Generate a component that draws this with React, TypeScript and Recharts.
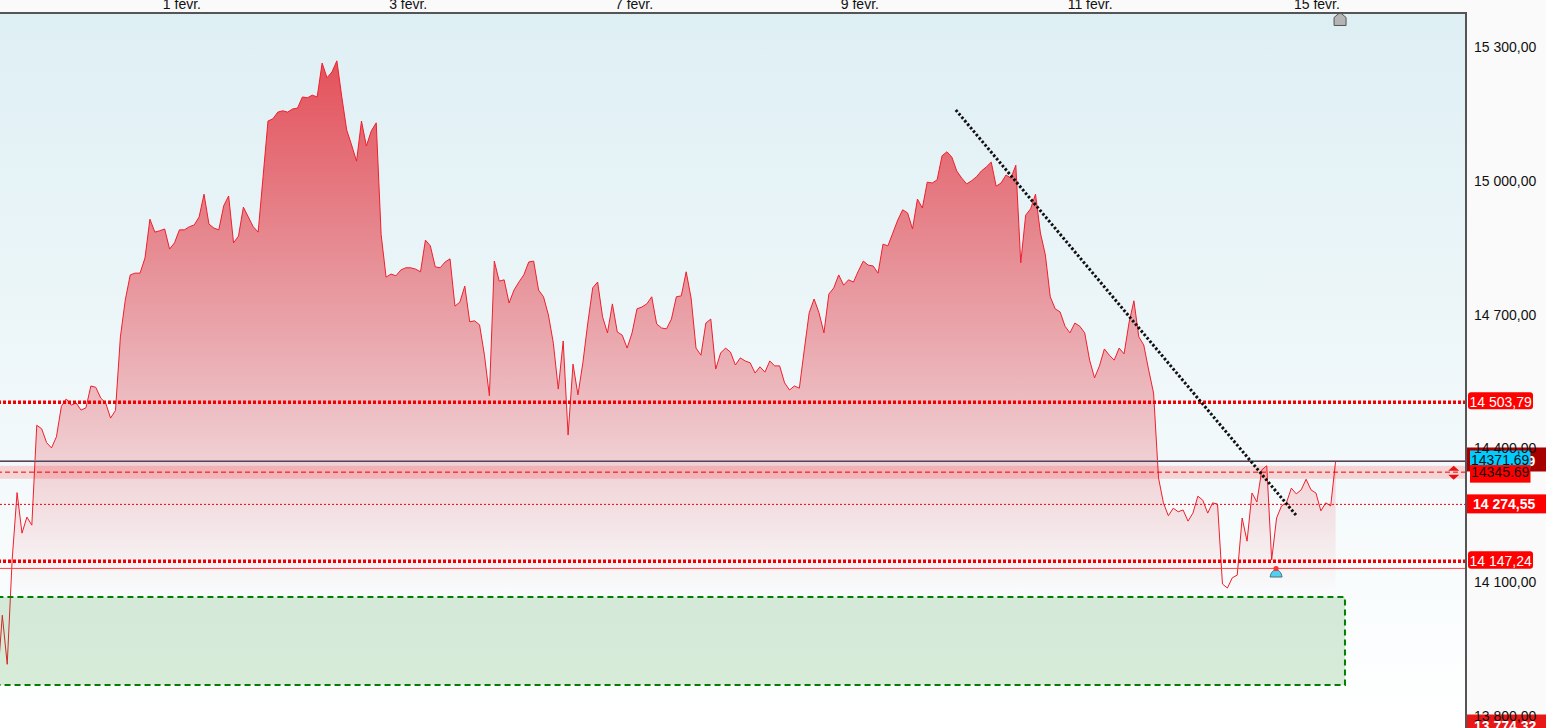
import {
  ComposedChart,
  Area,
  XAxis,
  YAxis,
  ReferenceLine,
  ReferenceArea,
  ReferenceDot,
} from "recharts";

const prices = [
  13876, 14026, 13916, 14150, 14301, 14210, 14246, 14228, 14452, 14444, 14413, 14401, 14426, 14494, 14511, 14497,
  14502, 14486, 14491, 14540, 14537, 14513, 14502, 14468, 14485, 14650, 14733, 14789, 14793, 14793, 14827, 14914,
  14885, 14888, 14892, 14847, 14861, 14890, 14890, 14897, 14901, 14919, 14970, 14903, 14894, 14890, 14944, 14966,
  14861, 14876, 14941, 14919, 14897, 14885, 15009, 15134, 15139, 15154, 15157, 15154, 15161, 15163, 15188, 15186,
  15192, 15188, 15264, 15231, 15244, 15269, 15188, 15114, 15080, 15044, 15134, 15078, 15112, 15130, 14879, 14784,
  14791, 14787, 14800, 14805, 14805, 14802, 14796, 14867, 14854, 14807, 14805, 14818, 14825, 14719, 14728, 14764,
  14684, 14686, 14677, 14609, 14518, 14820, 14775, 14778, 14726, 14755, 14773, 14789, 14818, 14820, 14755, 14740,
  14699, 14636, 14533, 14641, 14430, 14589, 14520, 14592, 14681, 14760, 14773, 14695, 14659, 14724, 14661, 14654,
  14625, 14659, 14713, 14717, 14724, 14740, 14679, 14670, 14668, 14690, 14740, 14742, 14796, 14737, 14625, 14609,
  14681, 14690, 14578, 14614, 14625, 14616, 14587, 14603, 14596, 14592, 14569, 14583, 14571, 14596, 14585, 14585,
  14547, 14531, 14540, 14535, 14621, 14704, 14735, 14704, 14659, 14746, 14760, 14789, 14766, 14778, 14773, 14798,
  14820, 14811, 14809, 14793, 14858, 14854, 14883, 14912, 14935, 14928, 14892, 14959, 14939, 14997, 14995, 15002,
  15056, 15065, 15053, 15022, 15006, 14993, 15000, 15009, 15022, 15031, 15042, 14988, 14995, 15013, 15006, 15035,
  14816, 14923, 14937, 14970, 14883, 14834, 14740, 14713, 14706, 14674, 14659, 14681, 14674, 14659, 14598, 14558,
  14585, 14623, 14609, 14598, 14625, 14612, 14681, 14731, 14650, 14632, 14576, 14524, 14334, 14278, 14249, 14266,
  14258, 14262, 14237, 14255, 14293, 14284, 14255, 14278, 14275, 14096, 14087, 14110, 14116, 14244, 14192, 14300,
  14280, 14352, 14361, 14150, 14244, 14271, 14278, 14311, 14298, 14307, 14331, 14307, 14300, 14260, 14278, 14271,
  14372,
];

const dateTicks = [37.5, 83.5, 129.4, 175.3, 222.1, 268.2];
const dateLabels = ["1 fevr.", "3 fevr.", "7 fevr.", "9 fevr.", "11 fevr.", "15 fevr."];
const priceTicks = [15300, 15000, 14700, 14400, 14100, 13800];

const data = prices.map((price, index) => ({ index, price }));

const formatPrice = (v: number) => `${Math.floor(v / 1000)} ${String(v % 1000).padStart(3, "0")},00`;

const PriceTag = (props: any) => {
  const { viewBox, text, fill, color = "#fff", bold, x0 = 0, w = 80, top = -10, h = 18, rx = 0, tx = 4, ty = 5 } = props;
  const left = viewBox.x + viewBox.width + x0;
  return (
    <g>
      <rect x={left} y={viewBox.y + top} width={w} height={h} rx={rx} fill={fill} />
      <text
        x={left + tx}
        y={viewBox.y + ty}
        fill={color}
        fontSize={14}
        fontWeight={bold ? 700 : 400}
        fontFamily="Liberation Sans"
      >
        {text}
      </text>
    </g>
  );
};

const House = ({ cx, cy }: any) => (
  <path
    d={`M${cx - 6} ${cy + 6.5}V${cy - 1.5}L${cx} ${cy - 6.5}L${cx + 6} ${cy - 1.5}V${cy + 6.5}Z`}
    fill="#b4b4b4"
    stroke="#555"
    strokeWidth={1}
  />
);

const BuyMark = ({ cx, cy }: any) => (
  <g>
    <path
      d={`M${cx - 6} ${cy + 4}C${cx - 5} ${cy - 1} ${cx - 3} ${cy - 3} ${cx} ${cy - 3}C${cx + 3} ${cy - 3} ${cx + 5} ${cy - 1} ${cx + 6} ${cy + 4}Z`}
      fill="#4fd2f2"
      stroke="#4a7080"
      strokeWidth={1}
    />
    <circle cx={cx} cy={cy - 4.5} r={2.6} fill="#f33" />
  </g>
);

const UpDown = ({ cx, cy }: any) => (
  <g fill="#e81010">
    <path d={`M${cx} ${cy - 7}L${cx + 5.5} ${cy - 2}H${cx - 5.5}Z`} />
    <path d={`M${cx} ${cy + 7}L${cx + 5.5} ${cy + 2}H${cx - 5.5}Z`} />
  </g>
);

export default function App() {
  return (
    <div style={{ position: "absolute", left: 0, top: 0, width: 1546, height: 728, overflow: "hidden", background: "#fafafa" }}>
      <div
        style={{
          position: "absolute",
          left: 0,
          top: 13,
          width: 1466,
          height: 715,
          background: "linear-gradient(#deeff4, #ffffff)",
        }}
      />
      <ComposedChart
        width={1546}
        height={728}
        data={data}
        margin={{ top: 0, right: 0, bottom: 0, left: 0 }}
        style={{ position: "absolute", left: 0, top: 0 }}
      >
        <defs>
          <linearGradient id="priceFill" x1="0" y1="0" x2="0" y2="1">
            <stop offset="0%" stopColor="#e5404a" stopOpacity={0.9} />
            <stop offset="80%" stopColor="#e5404a" stopOpacity={0} />
          </linearGradient>
        </defs>
        <XAxis
          dataKey="index"
          type="number"
          orientation="top"
          height={13}
          domain={[0.53, 298.5]}
          allowDataOverflow
          ticks={dateTicks}
          tickFormatter={(v: number) => dateLabels[dateTicks.indexOf(v)]}
          interval={0}
          tickLine={false}
          tickSize={0}
          tickMargin={4}
          tick={{ fill: "#111", fontSize: 14, fontFamily: "Liberation Sans" }}
          axisLine={false}
        />
        <YAxis
          type="number"
          orientation="right"
          width={80}
          domain={[13773.2, 15376.2]}
          allowDataOverflow
          ticks={priceTicks}
          tickFormatter={formatPrice}
          interval={0}
          tickLine={false}
          tickSize={0}
          tickMargin={8}
          tick={{ fill: "#111", fontSize: 14, fontFamily: "Liberation Sans" }}
          axisLine={false}
        />
        <Area
          dataKey="price"
          type="linear"
          baseValue={13773.2}
          stroke="#f01f2c"
          strokeWidth={1}
          fill="url(#priceFill)"
          fillOpacity={1}
          dot={false}
          activeDot={false}
          isAnimationActive={false}
        />
        <ReferenceArea y1={14332} y2={14361} fill="#ff0000" fillOpacity={0.15} stroke="none" />
        <ReferenceArea
          x1={0}
          x2={273.9}
          y1={13869.6}
          y2={14066.9}
          ifOverflow="visible"
          fill="#008000"
          fillOpacity={0.15}
          stroke="#008000"
          strokeWidth={2}
          strokeDasharray="6 4"
        />
        <ReferenceLine
          y={14503.79}
          stroke="#f00000"
          strokeWidth={3.5}
          strokeDasharray="3 2"
          label={<PriceTag text="14 503,79" fill="#ff0000" x0={2} w={65} h={17} rx={3} tx={1.5} />}
        />
        <ReferenceLine
          y={14147.24}
          stroke="#f00000"
          strokeWidth={3.5}
          strokeDasharray="3 2"
          label={<PriceTag text="14 147,24" fill="#ff0000" x0={2} w={65} h={17.5} rx={3} tx={1.5} />}
        />
        <ReferenceLine
          y={14274.55}
          stroke="#f00000"
          strokeWidth={1}
          strokeDasharray="2 2"
          label={<PriceTag text="14 274,55" fill="#ff0000" bold top={-10} h={19} tx={7} />}
        />
        <ReferenceLine y={14131} stroke="#ff4040" strokeWidth={1} />
        <ReferenceLine
          y={14370.7}
          stroke="#f00000"
          strokeWidth={1}
          label={<PriceTag text="14 370,69" fill="#a80000" bold top={-14} h={24} tx={7} />}
        />
        <ReferenceLine
          y={14372.9}
          stroke="#00c8f0"
          strokeWidth={1}
          label={<PriceTag text="14371.69" fill="#00ccff" color="#111" x0={4} w={60.5} top={-10} h={17} tx={1} ty={4.5} />}
        />
        <ReferenceLine
          y={14346.8}
          stroke="#f00000"
          strokeWidth={1}
          strokeDasharray="5 3"
          label={<PriceTag text="14345.69" fill="#ff0000" color="#111" x0={4} w={60.5} top={-7} h={17.5} tx={1} ty={4.5} />}
        />
        <ReferenceLine
          y={13774.32}
          stroke="none"
          label={<PriceTag text="13 774,32" fill="#e81818" bold top={-13} h={14} tx={8} ty={3} />}
        />
        <ReferenceLine
          segment={[
            { x: 194.8, y: 15158.8 },
            { x: 264.1, y: 14248.5 },
          ]}
          stroke="#111"
          strokeWidth={3}
          strokeDasharray="2.5 2"
        />
        <ReferenceDot x={272.9} y={15362.8} shape={<House />} />
        <ReferenceDot x={259.9} y={14120.7} shape={<BuyMark />} />
        <ReferenceDot x={296} y={14345.69} shape={<UpDown />} />
      </ComposedChart>
      {/* frame lines */}
      <div style={{ position: "absolute", left: 0, top: 12, width: 1467, height: 2, background: "#555" }} />
      <div style={{ position: "absolute", left: 1465, top: 12, width: 2, height: 716, background: "#555" }} />
    </div>
  );
}
